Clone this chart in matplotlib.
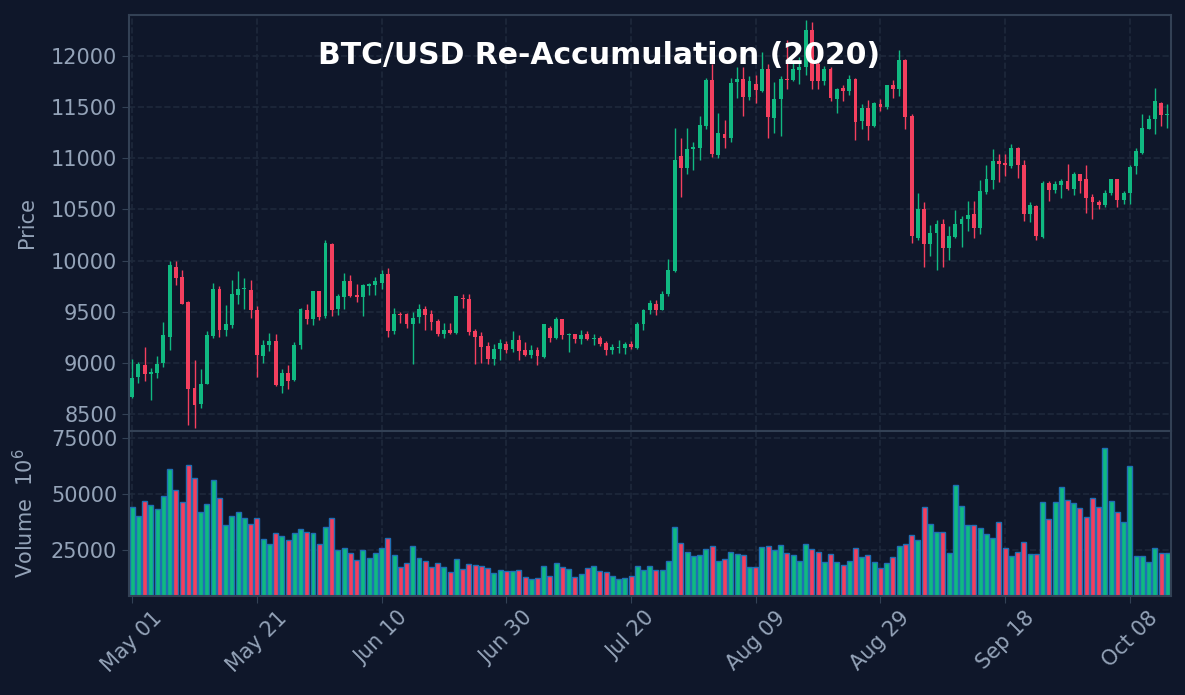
import numpy as np
import pandas as pd
import matplotlib
matplotlib.use("Agg")
import matplotlib.pyplot as plt

# daily BTC/USD candles
dates = pd.date_range("2020-05-01", periods=167, freq="D")

opens = [8666, 8861, 8975, 8894, 8900, 9000, 9253, 9937, 9839, 9591,
         8751, 8594, 8796, 9262, 9725, 9324, 9373, 9666, 9722, 9715,
         9520, 9067, 9177, 9210, 8773, 8904, 8829, 9177, 9520, 9432,
         9699, 9458, 10158, 9526, 9643, 9797, 9660, 9643, 9750, 9757,
         9780, 9865, 9311, 9478, 9474, 9383, 9448, 9530, 9474, 9406,
         9278, 9324, 9292, 9637, 9627, 9308, 9259, 9161, 9034, 9132,
         9181, 9132, 9226, 9122, 9073, 9122, 9057, 9344, 9243, 9425,
         9270, 9278, 9230, 9285, 9230, 9243, 9197, 9122, 9144, 9148,
         9187, 9148, 9376, 9513, 9578, 9520, 9676, 9898, 11019, 10905,
         11091, 11100, 11315, 11762, 11029, 11240, 11198, 11746, 11778, 11599,
         11729, 11658, 11876, 11397, 11576, 11770, 11762, 11860, 11892, 12251,
         11925, 11755, 11876, 11576, 11687, 11658, 11772, 11364, 11491, 11315,
         11534, 11501, 11713, 11674, 11964, 11410, 10220, 10507, 10158, 10272,
         10360, 10126, 10230, 10354, 10403, 10452, 10315, 10670, 10784, 10970,
         10954, 10924, 11100, 10931, 10452, 10530, 10230, 10761, 10686, 10735,
         10774, 10696, 10843, 10794, 10621, 10572, 10540, 10664, 10794, 10588,
         10660, 10924, 11051, 11289, 11387, 11543, 11420]

highs = [9041, 9008, 9155, 8949, 9063, 9399, 9992, 9992, 9911, 9600,
         9031, 8943, 9311, 9780, 9751, 9562, 9813, 9898, 9833, 9806,
         9552, 9226, 9295, 9285, 8943, 8982, 9203, 9536, 9572, 9705,
         9705, 10197, 10175, 9676, 9881, 9862, 9767, 9767, 9780, 9839,
         9904, 9930, 9539, 9494, 9487, 9497, 9578, 9552, 9513, 9432,
         9389, 9389, 9655, 9670, 9676, 9334, 9301, 9203, 9187, 9236,
         9213, 9308, 9269, 9203, 9171, 9155, 9383, 9357, 9448, 9430,
         9295, 9285, 9318, 9308, 9278, 9259, 9210, 9181, 9226, 9203,
         9210, 9399, 9530, 9611, 9617, 9702, 10018, 11299, 11201, 11299,
         11159, 11413, 11788, 11925, 11446, 11377, 11785, 11892, 11892, 11801,
         11811, 12039, 11918, 11746, 11801, 12153, 11941, 11990, 12355, 12332,
         11941, 11899, 11892, 11690, 11713, 11811, 11785, 11527, 11566, 11550,
         11583, 11720, 11768, 12062, 11975, 11436, 10660, 10572, 10351, 10393,
         10409, 10338, 10497, 10432, 10579, 10579, 10791, 10937, 11094, 11038,
         11038, 11136, 11110, 10986, 10572, 10546, 10774, 10774, 10774, 10800,
         10941, 10866, 10850, 10931, 10654, 10595, 10686, 10800, 10800, 10677,
         10937, 11100, 11436, 11426, 11690, 11550, 11534]

lows = [8659, 8803, 8822, 8640, 8855, 8959, 9128, 9764, 9572, 8389,
        8366, 8562, 8790, 9246, 9252, 9259, 9340, 9572, 9529, 9441,
        8861, 9001, 9112, 8773, 8705, 8747, 8822, 9138, 9376, 9366,
        9422, 9441, 9455, 9464, 9523, 9640, 9595, 9455, 9666, 9660,
        9725, 9252, 9285, 9389, 9344, 8985, 9389, 9324, 9324, 9262,
        9246, 9285, 9285, 9539, 9269, 8989, 8999, 8992, 8975, 9031,
        9096, 9106, 9031, 9063, 9050, 8975, 9050, 9203, 9230, 9236,
        9106, 9197, 9187, 9220, 9171, 9164, 9080, 9083, 9096, 9089,
        9138, 9138, 9318, 9481, 9471, 9513, 9650, 9890, 10621, 10849,
        10888, 10986, 11289, 11012, 11006, 11100, 11159, 11589, 11410, 11566,
        11544, 11648, 11198, 11250, 11214, 11680, 11755, 11729, 11811, 11680,
        11680, 11713, 11560, 11446, 11557, 11622, 11182, 11289, 11182, 11306,
        11462, 11485, 11592, 11605, 11289, 10175, 10204, 9937, 10044, 9911,
        9937, 10009, 10224, 10132, 10289, 10224, 10263, 10647, 10703, 10768,
        10827, 10905, 10807, 10383, 10377, 10197, 10224, 10579, 10660, 10615,
        10690, 10644, 10660, 10465, 10409, 10507, 10524, 10638, 10524, 10550,
        10550, 10843, 11045, 11283, 11240, 11315, 11299]

closes = [8855, 8985, 8894, 8906, 8992, 9269, 9953, 9829, 9578, 8747,
          8588, 8796, 9269, 9725, 9324, 9376, 9670, 9725, 9727, 9520,
          9080, 9177, 9210, 8780, 8904, 8826, 9177, 9523, 9432, 9699,
          9448, 10168, 9513, 9650, 9797, 9653, 9643, 9757, 9767, 9797,
          9865, 9311, 9474, 9470, 9383, 9441, 9530, 9464, 9399, 9278,
          9324, 9292, 9650, 9621, 9301, 9252, 9155, 9034, 9138, 9194,
          9122, 9226, 9116, 9073, 9128, 9063, 9376, 9243, 9425, 9275,
          9285, 9230, 9269, 9230, 9243, 9181, 9122, 9155, 9148, 9181,
          9155, 9376, 9520, 9585, 9520, 9676, 9904, 10986, 10905, 11094,
          11110, 11322, 11762, 11038, 11247, 11198, 11739, 11778, 11599, 11752,
          11671, 11876, 11403, 11583, 11778, 11766, 11869, 11892, 12251, 11755,
          11755, 11876, 11589, 11680, 11658, 11772, 11354, 11491, 11315, 11543,
          11501, 11713, 11674, 11964, 11403, 10240, 10507, 10165, 10272, 10360,
          10126, 10237, 10360, 10403, 10442, 10315, 10677, 10794, 10970, 10947,
          10937, 11100, 10931, 10452, 10540, 10240, 10758, 10686, 10745, 10774,
          10696, 10843, 10774, 10615, 10572, 10540, 10664, 10794, 10588, 10664,
          10914, 11071, 11293, 11380, 11557, 11420, 11426]

volumes = [44049, 40032, 46728, 45240, 43157, 48960, 61013, 51638, 46282, 62799,
           56995, 41817, 45389, 56102, 48067, 36014, 40032, 41817, 39139, 36461,
           39139, 29765, 27533, 32443, 31104, 29318, 32443, 34229, 32890, 32443,
           27533, 35122, 39139, 24854, 25747, 23515, 20390, 24854, 21283, 23515,
           25747, 30211, 22622, 17563, 19051, 26675, 21283, 19943, 17563, 19348,
           17266, 15331, 20836, 16669, 18902, 18456, 18009, 17117, 14587, 16222,
           15480, 15777, 16222, 13099, 12206, 12653, 17712, 13545, 19348, 17563,
           16669, 13099, 14438, 17117, 18009, 15777, 15331, 13545, 12206, 12653,
           13545, 18009, 16222, 18009, 16222, 16222, 20242, 35122, 28277, 24259,
           22473, 22919, 25597, 26936, 20242, 21134, 24259, 23366, 22919, 17563,
           17266, 26193, 26936, 24854, 27384, 23812, 22919, 20242, 27830, 25597,
           24259, 19795, 23366, 19795, 18456, 20242, 26045, 22027, 22919, 19795,
           17117, 19348, 22027, 26936, 27830, 31848, 29616, 44347, 36762, 33187,
           33187, 23812, 54168, 44793, 36315, 36315, 34976, 32297, 30511, 37654,
           26045, 22473, 24259, 28723, 23366, 23366, 46579, 38990, 46579, 53275,
           47472, 46133, 43901, 39883, 48365, 44347, 70685, 47026, 42124, 37654,
           62649, 22473, 22473, 19795, 26045, 23812, 23812]

BG = "#0f172a"
UP = "#10b981"
DOWN = "#f43f5e"
TXT = "#94a3b8"
SPINE = "#334155"
GRID = "#1e293b"

o = np.array(opens, dtype=float)
h = np.array(highs, dtype=float)
l = np.array(lows, dtype=float)
c = np.array(closes, dtype=float)
v = np.array(volumes, dtype=float)
x = np.arange(len(dates))
colors = np.where(c >= o, UP, DOWN)

fig = plt.figure(figsize=(11.85, 6.95), dpi=100, facecolor=BG)
ax = fig.add_axes([0.1089, 0.3799, 0.8793, 0.5985])
axv = fig.add_axes([0.1089, 0.1424, 0.8793, 0.2375], sharex=ax)

for a in (ax, axv):
    a.set_facecolor(BG)
    for s in a.spines.values():
        s.set_color(SPINE)
        s.set_linewidth(1.5)
    a.tick_params(colors=SPINE, labelcolor=TXT, labelsize=15, length=5)
    a.grid(True, color=GRID, linestyle="--", linewidth=1.2)
    a.set_axisbelow(True)

# candles
ax.vlines(x, l, h, colors=colors, linewidth=1)
body_lo = np.minimum(o, c)
body_h = np.maximum(np.abs(c - o), 10)
ax.bar(x, body_h, bottom=body_lo, width=0.62, color=colors, linewidth=0)
ax.set_ylim(8334, 12401)
ax.set_yticks(np.arange(8500, 12001, 500))
ax.set_ylabel("Price", color=TXT, fontsize=15, labelpad=10)
plt.setp(ax.get_xticklabels(), visible=False)
ax.tick_params(axis="x", length=0)

# volume
axv.bar(x, v, width=0.8, color=colors, edgecolor="#1f6fb4", linewidth=1)
axv.set_ylim(4470, 78100)
axv.set_yticks([25000, 50000, 75000])
axv.set_ylabel("Volume  $10^{6}$", color=TXT, fontsize=15, labelpad=10)

tick_idx = np.arange(0, len(dates), 20)
axv.set_xticks(tick_idx)
axv.set_xticklabels([dates[i].strftime("%b %d") for i in tick_idx],
                    rotation=45, ha="center")
axv.set_xlim(-0.5, len(dates) - 0.4)

fig.text(599 / 1185, 1 - 55 / 695, "BTC/USD Re-Accumulation (2020)",
         color="white", fontsize=21.5, fontweight="bold", ha="center", va="center")

fig.savefig("out.png", dpi=100, facecolor=BG)
